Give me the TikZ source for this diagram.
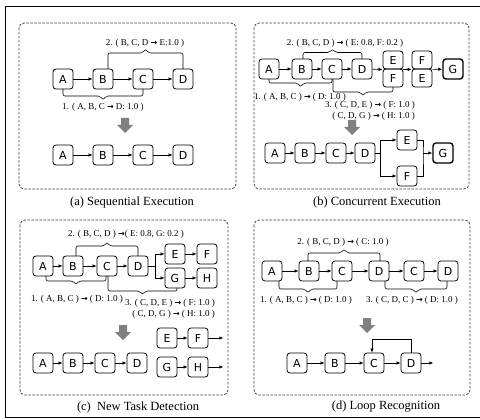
\documentclass[tikz,border=0pt]{standalone}
\usepackage{fontspec}
\setmainfont{Liberation Serif}
\setsansfont{DejaVu Sans}
\newfontfamily\arrowfont{DejaVu Sans}
\usetikzlibrary{arrows.meta, calc}

% bold arrow used inside the rule labels
\newcommand{\To}{{\arrowfont\bfseries\fontsize{8}{9}\selectfont →}}
% brace under/over a node run: x1, base1, x2, base2, line y, tip y
\newcommand{\rulebrace}[6]{%
  \draw[brace line] (#1,#2) |- ({(#1+#3)/2-3},#5) -- ({(#1+#3)/2},#6) -- ({(#1+#3)/2+3},#5) -| (#3,#4);}
% thick gray arrow pointing down: x, top y
\newcommand{\mergearrow}[2]{%
  \fill[gray] ({#1-4},#2) -- ({#1+4},#2) -- ({#1+4},{#2+7}) -- ({#1+8},{#2+7}) -- (#1,{#2+15})
    -- ({#1-8},{#2+7}) -- ({#1-4},{#2+7}) -- cycle;}

\tikzset{
  task/.style={draw, rounded corners=3pt, line width=0.8pt, minimum width=20pt,
    minimum height=20pt, inner sep=0pt, font=\sffamily\fontsize{11}{13}\selectfont},
  half/.style={task, minimum height=18pt},
  endtask/.style={task, line width=1.4pt},
  arr/.style={line width=0.7pt, -{Latex[length=4pt,width=3.5pt]}},
  wire/.style={line width=0.7pt},
  brace line/.style={line width=0.6pt, rounded corners=2pt},
  rule/.style={inner sep=0pt, font=\fontsize{9}{10.5}\selectfont},
  panel/.style={draw=black!75, line width=0.8pt, dash pattern=on 2.5pt off 1.5pt, rounded corners=5pt},
  caption/.style={inner sep=0pt, font=\fontsize{12.5}{14}\selectfont}
}

\begin{document}
\begin{tikzpicture}[x=1pt, y=-1pt]
\useasboundingbox (0,0) rectangle (480,420);

% outer frame
\draw[line width=0.9pt] (480,6) -- (5,6) -- (5,417) -- (480,417);

% ---------- (a) Sequential Execution ----------
\draw[panel] (19,23) rectangle (236,189);
\node[caption] (capa) at (132,202) {(a) Sequential Execution};
\foreach \lbl/\x in {A/63,B/103,C/143,D/183} {
  \node[task] (a1\lbl) at (\x,79) {\lbl};
  \node[task] (a2\lbl) at (\x,155) {\lbl};
}
\foreach \p/\q in {A/B,B/C,C/D} {
  \draw[arr] (a1\p) -- (a1\q);
  \draw[arr] (a2\p) -- (a2\q);
}
\rulebrace{108}{69}{183}{69}{53}{49}
\node[rule] (ar2) at (145,43) {2. ( B, C, D \To{} E:1.0 )};
\rulebrace{63}{89}{143}{89}{96}{100}
\node[rule] (ar1) at (103,107) {1. ( A, B, C \To{} D: 1.0 )};
\mergearrow{125}{118}

% ---------- (b) Concurrent Execution ----------
\draw[panel] (254,23) rectangle (469,189);
\node[caption] (capb) at (377,202) {(b) Concurrent Execution};
\foreach \lbl/\x in {A/269,B/302,C/332,D/362}
  \node[task] (b1\lbl) at (\x,69) {\lbl};
\foreach \p/\q in {A/B,B/C,C/D}
  \draw[arr] (b1\p) -- (b1\q);
% stacked alternatives
\node[half] (b1E) at (393,60) {E};
\node[half] (b1F) at (393,78) {F};
\node[half] (b2F) at (422,60) {F};
\node[half] (b2E) at (422,78) {E};
\node[endtask] (b1G) at (453,69) {G};
\draw[arr] (b1D) -- (b1E.south west);
\draw[arr] (b1E.south east) -- (b2F.south west);
\draw[arr] (b2F.south east) -- (b1G);
\rulebrace{303}{59}{362}{59}{52.5}{49}
\node[rule] (br2) at (345,43) {2. ( B, C, D ) \To{} ( E: 0.8, F: 0.2 )};
\rulebrace{269}{79}{332}{79}{83}{87}
\node[rule] (br1) at (300,97) {1. ( A, B, C ) \To{} ( D: 1.0 )};
\rulebrace{333}{79}{393}{87}{92}{95.5}
\node[rule, align=right] (br3) at (370,111) {3. ( C, D, E ) \To{} ( F: 1.0 )\\( C, D, G ) \To{} ( H: 1.0 )};
\mergearrow{352}{120}
% merged: parallel branch
\foreach \lbl/\x in {A/275,B/305,C/336,D/365}
  \node[task] (b3\lbl) at (\x,153) {\lbl};
\foreach \p/\q in {A/B,B/C,C/D}
  \draw[arr] (b3\p) -- (b3\q);
\node[task] (b3E) at (407,140) {E};
\node[task] (b3F) at (407,176) {F};
\node[endtask] (b3G) at (443,153) {G};
\coordinate (bfork) at (380,153);
\coordinate (bjoin) at (423,153);
\draw[wire] (b3D) -- (bfork);
\draw[arr] (bfork) |- (b3E);
\draw[arr] (bfork) |- (b3F);
\draw[wire] (b3E.east) -| (bjoin) |- (b3F.east);
\draw[arr] (bjoin) -- (b3G);

% ---------- (c) New Task Detection ----------
\draw[panel] (20,220) rectangle (228,395);
\node[caption] (capc) at (138,407) {(c)\ \ New Task Detection};
\foreach \lbl/\x in {A/43,B/73,C/107,D/138}
  \node[task] (c1\lbl) at (\x,266) {\lbl};
\foreach \p/\q in {A/B,B/C,C/D}
  \draw[arr] (c1\p) -- (c1\q);
\node[task] (c1E) at (175,254) {E};
\node[task] (c1F) at (207,254) {F};
\node[task] (c1G) at (175,278) {G};
\node[task] (c1H) at (207,278) {H};
\coordinate (cfork) at (155,266);
\draw[wire] (c1D) -- (cfork);
\draw[arr] (cfork) |- (c1E);
\draw[arr] (cfork) |- (c1G);
\draw[arr] (c1E) -- (c1F);
\draw[arr] (c1G) -- (c1H);
\rulebrace{76}{256}{138}{256}{246}{242.5}
\node[rule] (cr2) at (126,234) {2. ( B, C, D ) \To{}( E: 0.8, G: 0.2 )};
\rulebrace{46}{276}{106}{276}{281}{284.5}
\node[rule] (cr1) at (77,299) {1. ( A, B, C ) \To{} ( D: 1.0 )};
\rulebrace{108}{276}{177}{288}{291}{294.5}
\node[rule, align=right] (cr3) at (170,309) {3. ( C, D, E ) \To{} ( F: 1.0 )\\( C, D, G ) \To{} ( H: 1.0 )};
\mergearrow{123}{325}
% merged: new tasks split off
\foreach \lbl/\x in {A/43,B/73,C/105,D/137}
  \node[task] (c2\lbl) at (\x,363) {\lbl};
\foreach \p/\q in {A/B,B/C,C/D}
  \draw[arr] (c2\p) -- (c2\q);
\node[task] (c2E) at (167,338) {E};
\node[task] (c2F) at (198,338) {F};
\node[task] (c2G) at (167,367) {G};
\node[task] (c2H) at (198,367) {H};
\draw[arr] (c2E) -- (c2F);
\draw[arr] (c2G) -- (c2H);
\draw[arr] (c2F.east) -- ++(15,0);
\draw[arr] (c2H.east) -- ++(15,0);

% ---------- (d) Loop Recognition ----------
\draw[panel] (254,220) rectangle (470,395);
\node[caption] (capd) at (386,407) {(d) Loop Recognition};
\foreach \lbl/\nm/\x in {A/A/272,B/B/309,C/C/342,D/D/379,C/C2/414,D/D2/448}
  \node[task] (d1\nm) at (\x,271) {\lbl};
\foreach \p/\q in {A/B,B/C,C/D,D/C2,C2/D2}
  \draw[arr] (d1\p) -- (d1\q);
\rulebrace{308}{261}{380}{261}{253}{249}
\node[rule] (dr2) at (343,242) {2. ( B, C, D ) \To{} ( C: 1.0 )};
\rulebrace{279}{281}{337}{281}{289}{293}
\node[rule] (dr1) at (306,300) {1. ( A, B, C ) \To{} ( D: 1.0 )};
\rulebrace{385}{281}{447}{281}{289}{293}
\node[rule] (dr3) at (412,300) {3. ( C, D, C ) \To{} ( D: 1.0 )};
\mergearrow{367}{318}
% merged: loop back from D to C
\foreach \lbl/\x in {A/297,B/335,C/374,D/411}
  \node[task] (d2\lbl) at (\x,363) {\lbl};
\foreach \p/\q in {A/B,B/C,C/D}
  \draw[arr] (d2\p) -- (d2\q);
\draw[arr] (d2D.north) -- ++(0,-13) -| ($(d2C.north)+(-2,0)$);
\draw[arr] (d2D.east) -- ++(12,0);

\end{tikzpicture}
\end{document}
